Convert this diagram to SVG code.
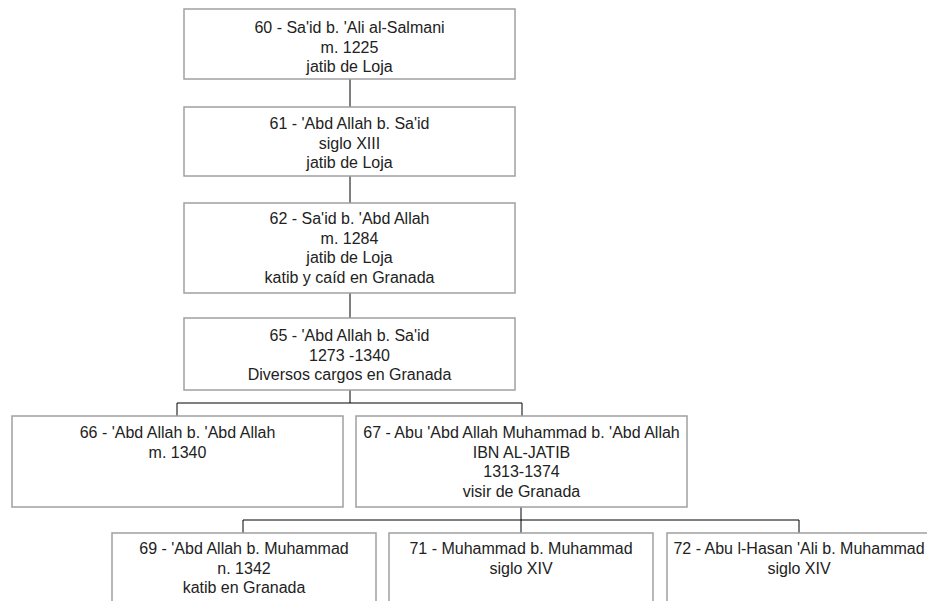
<svg xmlns="http://www.w3.org/2000/svg" width="927" height="601" viewBox="0 0 927 601">
<style>
.box{fill:#fff;stroke:#a0a0a0;stroke-width:1.5}
.t{font-family:"Liberation Sans",Arial,sans-serif;font-size:16px;fill:#222;text-anchor:middle}
.c{fill:none;stroke:#000;stroke-width:1}
</style>
<rect width="927" height="601" fill="#fff"/>
<g id="connectors">
<path class="c" d="M350 79V107M350 176V203M350 293V318"/>
<path class="c" d="M350 390V403M177 403H522M177 403V416M522 403V416"/>
<path class="c" d="M521 507V520M243 520H799M243 520V533M521 520V533M799 520V533"/>
</g>
<g id="n60"><rect class="box" x="184" y="9" width="331" height="70"/>
<text class="t" x="349.5" y="33">60 - Sa'id b. 'Ali al-Salmani</text>
<text class="t" x="349.5" y="52.5">m. 1225</text>
<text class="t" x="349.5" y="72">jatib de Loja</text></g>
<g id="n61"><rect class="box" x="184" y="107" width="331" height="69"/>
<text class="t" x="349.5" y="129">61 - 'Abd Allah b. Sa'id</text>
<text class="t" x="349.5" y="148.5">siglo XIII</text>
<text class="t" x="349.5" y="168">jatib de Loja</text></g>
<g id="n62"><rect class="box" x="184" y="203" width="331" height="90"/>
<text class="t" x="349.5" y="224">62 - Sa'id b. 'Abd Allah</text>
<text class="t" x="349.5" y="243.5">m. 1284</text>
<text class="t" x="349.5" y="263">jatib de Loja</text>
<text class="t" x="349.5" y="282.5">katib y caíd en Granada</text></g>
<g id="n65"><rect class="box" x="184" y="318" width="331" height="72"/>
<text class="t" x="349.5" y="341">65 - 'Abd Allah b. Sa'id</text>
<text class="t" x="349.5" y="360.5">1273 -1340</text>
<text class="t" x="349.5" y="380">Diversos cargos en Granada</text></g>
<g id="n66"><rect class="box" x="12" y="416" width="331" height="91"/>
<text class="t" x="177.5" y="438">66 - 'Abd Allah b. 'Abd Allah</text>
<text class="t" x="177.5" y="457.5">m. 1340</text></g>
<g id="n67"><rect class="box" x="356" y="416" width="331" height="91"/>
<text class="t" x="521.5" y="438">67 - Abu 'Abd Allah Muhammad b. 'Abd Allah</text>
<text class="t" x="521.5" y="457.5">IBN AL-JATIB</text>
<text class="t" x="521.5" y="477">1313-1374</text>
<text class="t" x="521.5" y="496.5">visir de Granada</text></g>
<g id="n69"><rect class="box" x="112" y="533" width="264" height="90"/>
<text class="t" x="244" y="554">69 - 'Abd Allah b. Muhammad</text>
<text class="t" x="244" y="573.5">n. 1342</text>
<text class="t" x="244" y="593">katib en Granada</text></g>
<g id="n71"><rect class="box" x="389" y="533" width="264" height="90"/>
<text class="t" x="521" y="554">71 - Muhammad b. Muhammad</text>
<text class="t" x="521" y="573.5">siglo XIV</text></g>
<g id="n72"><rect class="box" x="667" y="533" width="264" height="90"/>
<text class="t" x="799" y="554">72 - Abu l-Hasan 'Ali b. Muhammad</text>
<text class="t" x="799" y="573.5">siglo XIV</text></g>
</svg>
